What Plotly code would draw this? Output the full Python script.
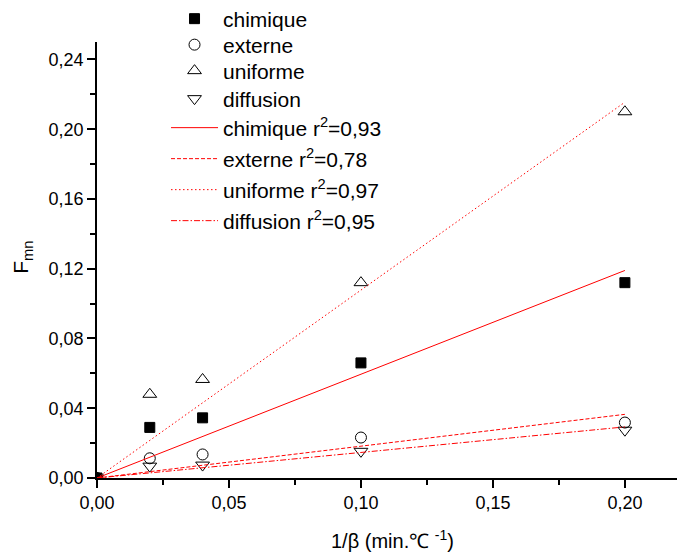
import plotly.graph_objects as go

# Data
x_vals = [0.0, 0.02, 0.04, 0.10, 0.20]
chimique = [0.0, 0.029, 0.0345, 0.066, 0.112]
externe = [0.0, 0.0113, 0.0135, 0.0232, 0.0318]
uniforme = [0.0, 0.048, 0.0565, 0.112, 0.210]
diffusion = [0.0, 0.0068, 0.0074, 0.0153, 0.0274]

fit_x = [0.0, 0.20]
fit_chimique = [0.0, 0.119]
fit_externe = [0.0, 0.0365]
fit_uniforme = [0.0, 0.2155]
fit_diffusion = [0.0, 0.0293]

y_ticks = [0.0, 0.04, 0.08, 0.12, 0.16, 0.20, 0.24]
x_ticks = [0.0, 0.05, 0.10, 0.15, 0.20]

FONT = "Arial, Liberation Sans, sans-serif"

# page-pixel rows of the legend entries (one legend box per entry)
legend_rows = [19, 45, 71, 99, 128, 159, 190, 221]

fig = go.Figure()

marker_series = [
    ("chimique", chimique, "square", "black", 10),
    ("externe", externe, "circle-open", "black", 11),
    ("uniforme", uniforme, "triangle-up-open", "black", 12),
    ("diffusion", diffusion, "triangle-down-open", "black", 12),
]
line_series = [
    ("chimique r<sup>2</sup>=0,93", fit_chimique, "solid"),
    ("externe r<sup>2</sup>=0,78", fit_externe, "4px,2px"),
    ("uniforme r<sup>2</sup>=0,97", fit_uniforme, "1.5px,2.5px"),
    ("diffusion r<sup>2</sup>=0,95", fit_diffusion, "6px,2px,1.5px,2px"),
]

def legend_id(i):
    return "legend" if i == 0 else f"legend{i + 1}"

idx = 0
for name, ys, sym, col, sz in marker_series:
    fig.add_trace(go.Scatter(
        x=x_vals, y=ys, mode="markers", name=name, legend=legend_id(idx),
        marker=dict(symbol=sym, color=col, size=sz, line=dict(color="black", width=1)),
    ))
    idx += 1

for name, ys, dash in line_series:
    fig.add_trace(go.Scatter(
        x=fit_x, y=ys, mode="lines", name=name, legend=legend_id(idx),
        line=dict(color="red", width=1, dash=dash),
    ))
    idx += 1

axis_common = dict(
    showgrid=False, zeroline=False, showline=True, linecolor="black", linewidth=1.5,
    ticks="outside", ticklen=8, tickwidth=1.5, tickcolor="black",
    tickfont=dict(family=FONT, size=18, color="black"),
    tickformat=".2f", automargin=False,
)

fig.update_xaxes(
    range=[0, 0.2258], tickvals=x_ticks,
    minor=dict(ticks="outside", ticklen=5, tickwidth=1.5, tickcolor="black", dtick=0.025, tick0=0),
    **axis_common,
)
fig.update_yaxes(
    range=[0, 0.25], tickvals=y_ticks,
    minor=dict(ticks="outside", ticklen=5, tickwidth=1.5, tickcolor="black", dtick=0.02, tick0=0),
    **axis_common,
)

# axis titles as annotations for precise placement
fig.add_annotation(
    text="1/β (min.℃ <sup>-1</sup>)", xref="paper", yref="paper",
    x=0.4966, y=-0.142, xanchor="center", yanchor="middle", showarrow=False,
    font=dict(family=FONT, size=20, color="black"),
)
fig.add_annotation(
    text="F<sub>mn</sub>", xref="paper", yref="paper",
    x=-0.1258, y=0.505, xanchor="center", yanchor="middle", showarrow=False,
    textangle=-90, font=dict(family=FONT, size=21, color="black"),
)

MARGIN_T, MARGIN_B, HEIGHT = 34, 86, 556
plot_bottom = HEIGHT - MARGIN_B
plot_h = HEIGHT - MARGIN_T - MARGIN_B

legends = {}
for i, row in enumerate(legend_rows):
    legends[legend_id(i)] = dict(
        x=0.1158, y=(plot_bottom - (row - 8)) / plot_h, xanchor="left", yanchor="middle",
        bgcolor="rgba(0,0,0,0)", itemwidth=47,
        font=dict(family=FONT, size=21, color="black"),
    )

fig.update_layout(
    width=685, height=HEIGHT,
    margin=dict(l=89, r=0, t=MARGIN_T, b=MARGIN_B, autoexpand=False),
    plot_bgcolor="white", paper_bgcolor="white",
    separators=",.",
    showlegend=True,
    **legends,
)

fig.write_html("out.html")
